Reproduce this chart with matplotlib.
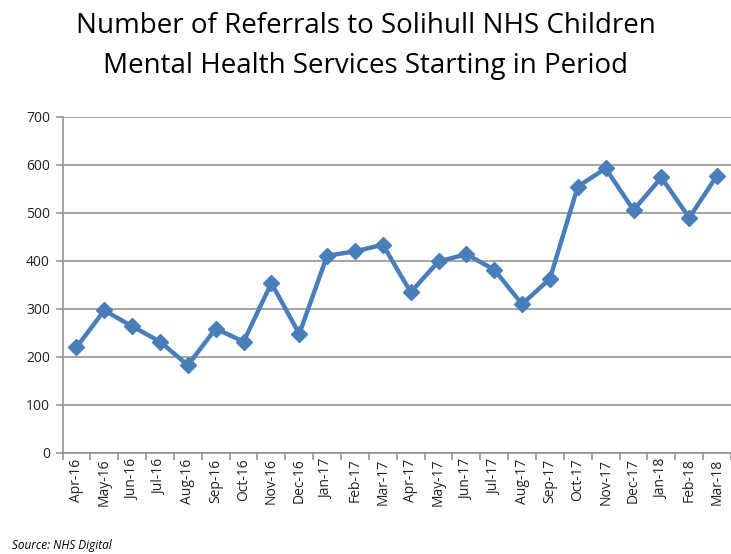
import numpy as np
import matplotlib
matplotlib.use("Agg")
import matplotlib.pyplot as plt

months = ['Apr-16', 'May-16', 'Jun-16', 'Jul-16', 'Aug-16', 'Sep-16', 'Oct-16',
          'Nov-16', 'Dec-16', 'Jan-17', 'Feb-17', 'Mar-17', 'Apr-17', 'May-17',
          'Jun-17', 'Jul-17', 'Aug-17', 'Sep-17', 'Oct-17', 'Nov-17', 'Dec-17',
          'Jan-18', 'Feb-18', 'Mar-18']
referrals = [220, 297, 264, 232, 183, 259, 232, 354, 248, 411, 420, 434,
             335, 399, 414, 382, 310, 363, 555, 593, 506, 574, 490, 578]
yticks = [0, 100, 200, 300, 400, 500, 600, 700]

plt.rcParams['font.family'] = ['Open Sans', 'DejaVu Sans']

fig = plt.figure(figsize=(7.31, 5.54), dpi=100)
ax = fig.add_axes([62.5/731, 1 - 453/554, (731 - 62.5)/731, (453 - 117)/554])

x = np.arange(len(months))
ax.plot(x, referrals, color='#4a7ebb', linewidth=3.2, marker='D', markersize=8,
        markerfacecolor='#4a7ebb', markeredgecolor='#4a7ebb', zorder=3, clip_on=False)

ax.set_xlim(-0.5, len(months) - 0.5)
ax.set_ylim(0, 700)
ax.set_yticks(yticks)
ax.set_yticklabels([str(v) for v in yticks], fontsize=10, color='#222222')
ax.yaxis.grid(True, color='#8c8c8c', linewidth=1.1)
ax.set_axisbelow(True)

ax.set_xticks(x)
ax.set_xticklabels(months, rotation=90, fontsize=10, color='#222222')
ax.set_xticks(np.arange(len(months) + 1) - 0.5, minor=True)
ax.tick_params(axis='x', which='major', length=0, pad=4)
ax.tick_params(axis='x', which='minor', length=5, color='#8c8c8c', width=1.1)
ax.tick_params(axis='y', length=5, color='#8c8c8c', width=1.1, pad=4)

for s in ['top', 'right']:
    ax.spines[s].set_visible(False)
for s in ['left', 'bottom']:
    ax.spines[s].set_color('#8c8c8c')
    ax.spines[s].set_linewidth(1.1)

fig.text(0.5, 1 - 46/554, 'Number of Referrals to Solihull NHS Children\nMental Health Services Starting in Period',
         ha='center', va='center', fontsize=20, linespacing=1.6, color='#000000')
fig.text(12/731, 1 - 545/554, 'Source: NHS Digital', fontsize=8.5, style='italic',
         ha='left', va='center', color='#000000')

fig.savefig('out.png', dpi=100)
